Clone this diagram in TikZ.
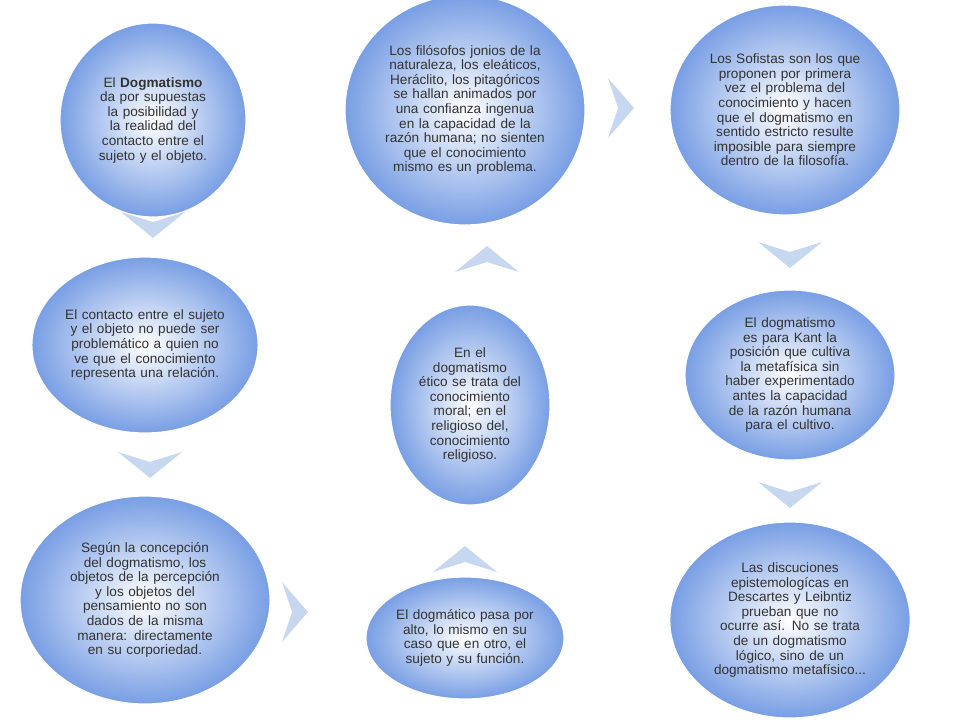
\documentclass[tikz,border=0pt]{standalone}
\usepackage{fontspec}
\setmainfont{Liberation Sans}
\usetikzlibrary{shapes.geometric,shadings}
\hyphenpenalty=10000
\exhyphenpenalty=10000
\begin{document}
\begin{tikzpicture}[x=1pt,y=-1pt,
  bub/.style={ellipse,inner sep=0pt,draw=white,line width=1.2pt,
    inner color=white,outer color={rgb,255:red,120;green,158;blue,228},
    align=center,font=\fontsize{13.6}{14.6}\selectfont,text=black!80},
  chev/.style={fill={rgb,255:red,200;green,215;blue,240},draw=none}]
\useasboundingbox (0,0) rectangle (960,720);
\fill[white] (0,0) rectangle (960,720);
\node[bub,minimum width=186,minimum height=194,text width=128] (a) at (153,120)
 {El \textbf{Dogmatismo} da por supuestas la posibilidad y la realidad del contacto entre el sujeto y el objeto.};
\node[bub,minimum width=206,minimum height=176,text width=160] (b) at (145,345)
 {El contacto entre el sujeto y el objeto no puede ser problemático a quien no ve que el conocimiento representa una relación.};
\node[bub,minimum width=250,minimum height=208,text width=160] (c) at (145,600)
 {Según la concepción del dogmatismo, los objetos de la percepción y los objetos del pensamiento no son dados de la misma manera: directamente en su corporiedad.};
\node[bub,minimum width=190,minimum height=122,text width=140] (d) at (465,638)
 {El dogmático pasa por alto, lo mismo en su caso que en otro, el sujeto y su función.};
\node[bub,minimum width=160,minimum height=200,text width=105] (e) at (470,405)
 {En el dogmatismo ético se trata del conocimiento moral; en el religioso del, conocimiento religioso.};
\node[bub,minimum width=240,minimum height=230,text width=168] (f) at (465,110)
 {Los filósofos jonios de la naturaleza, los eleáticos, Heráclito, los pitagóricos se hallan animados por una confianza ingenua en la capacidad de la razón humana; no sienten que el conocimiento mismo es un problema.};
\node[bub,minimum width=230,minimum height=210,text width=160] (g) at (785,110)
 {Los Sofistas son los que proponen por primera vez el problema del conocimiento y hacen que el dogmatismo en sentido estricto resulte imposible para siempre dentro de la filosofía.};
\node[bub,minimum width=210,minimum height=170,text width=140] (h) at (790,375)
 {El dogmatismo es para Kant  la posición que cultiva la metafísica sin haber experimentado antes la capacidad de la razón humana para el cultivo.};
\node[bub,minimum width=230,minimum height=196,text width=170] (i) at (790,620)
 {Las discuciones epistemologícas en Descartes y Leibntiz prueban que no ocurre así. No se trata de un dogmatismo lógico, sino de un dogmatismo metafísico...};
% chevrons
\foreach \x/\y in {153/222,150/462,790/252,790/492}
  \fill[chev] (\x-32,\y-10) -- (\x,\y) -- (\x+32,\y-10) -- (\x,\y+16) -- cycle;
\foreach \x/\y in {465/562,487/262}
  \fill[chev] (\x-32,\y+10) -- (\x,\y) -- (\x+32,\y+10) -- (\x,\y-16) -- cycle;
\foreach \x/\y in {292/612,618/108}
  \fill[chev] (\x-10,\y-30) -- (\x,\y) -- (\x-10,\y+30) -- (\x+16,\y) -- cycle;
\end{tikzpicture}
\end{document}
